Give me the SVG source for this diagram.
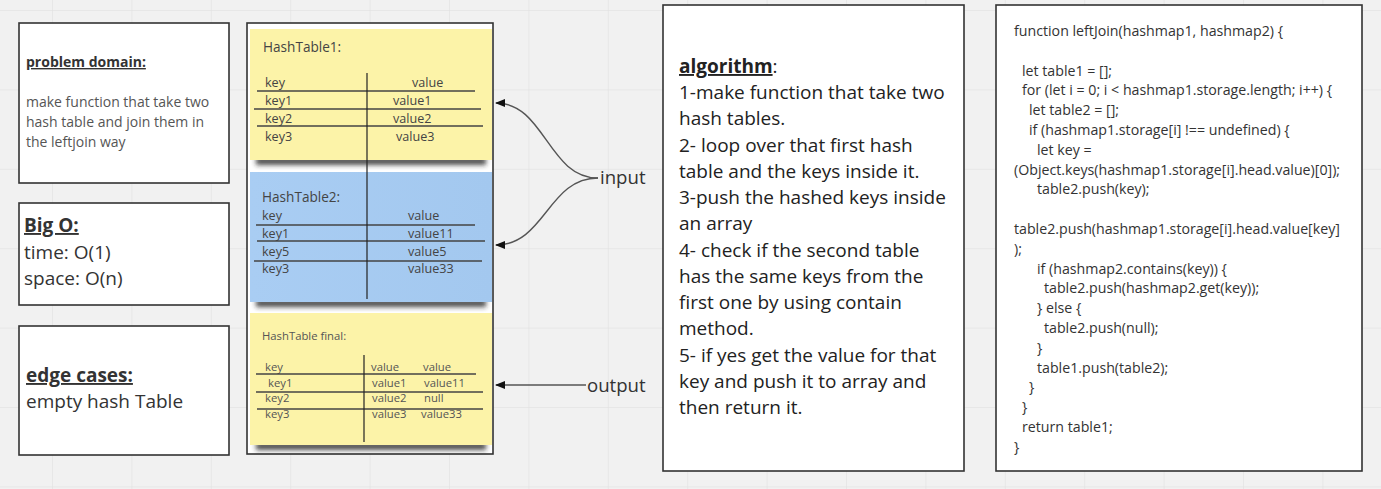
<svg xmlns="http://www.w3.org/2000/svg" width="1381" height="489" viewBox="0 0 1381 489">
<style>
.box{fill:#ffffff;stroke:#333333;stroke-width:1.6}
.t{font-family:"Open Sans","Liberation Sans",sans-serif;fill:#333333}
.sm{font-size:14px;fill:#555555}
.md{font-size:19px}
.io{font-size:18.6px}
.alg{font-size:19px;fill:#222222}
.code{font-size:14.2px;fill:#333333}
.tb{font-size:12.6px;fill:#444444}
.th{font-size:13.6px;fill:#444444}
.tf{font-size:11.3px;fill:#555555}
.b{font-weight:bold;text-decoration:underline}
.row{stroke:#444444;stroke-width:1.3;fill:none}
.col{stroke:#222222;stroke-width:1.2;fill:none}
.conn{stroke:#555555;stroke-width:1.4;fill:none}
</style>
<defs>
<pattern id="grid" x="52" y="10" width="79.4" height="79.4" patternUnits="userSpaceOnUse">
<path d="M0 0H79.4M0 0V79.4" stroke="#e3e3e3" stroke-width="1.5" fill="none"/>
</pattern>
<filter id="sh" x="-10%" y="-100%" width="120%" height="300%">
<feGaussianBlur stdDeviation="2.5"/>
</filter>
<marker id="ah" viewBox="0 0 10 8" refX="9" refY="4" markerWidth="10" markerHeight="8" markerUnits="userSpaceOnUse" orient="auto">
<path d="M10 4L0 0L0 8Z" fill="#111111"/>
</marker>
<linearGradient id="blue" x1="0" y1="0" x2="1" y2="0">
<stop offset="0" stop-color="#a9cdf3"/>
<stop offset="1" stop-color="#a3c8ef"/>
</linearGradient>
</defs>
<rect width="1381" height="489" fill="#f1f1f1"/>
<rect width="1381" height="489" fill="url(#grid)"/>

<g id="problem-domain">
<rect class="box" x="19" y="23" width="210" height="160"/>
<text class="t b" x="26" y="67" font-size="14">problem domain:</text>
<text class="t sm" x="26" y="107">make function that take two</text>
<text class="t sm" x="26" y="127">hash table and join them in</text>
<text class="t sm" x="26" y="147">the leftjoin way</text>
</g>

<g id="big-o">
<rect class="box" x="19" y="203" width="210" height="102"/>
<text class="t md b" x="24" y="232">Big O:</text>
<text class="t md" x="24" y="259">time: O(1)</text>
<text class="t md" x="24" y="285">space: O(n)</text>
</g>

<g id="edge-cases">
<rect class="box" x="19" y="326" width="210" height="129"/>
<text class="t md b" x="26" y="382">edge cases:</text>
<text class="t md" x="26" y="408">empty hash Table</text>
</g>

<g id="hash-tables">
<rect class="box" x="247" y="23" width="246" height="431"/>
<rect x="256" y="157" width="230" height="8" fill="#222222" opacity="0.8" filter="url(#sh)"/>
<rect x="256" y="299" width="230" height="8" fill="#222222" opacity="0.8" filter="url(#sh)"/>
<rect x="256" y="442" width="230" height="8" fill="#222222" opacity="0.8" filter="url(#sh)"/>
<g id="hashtable1">
<rect x="250" y="29" width="242" height="131" fill="#fcf3a8"/>
<text class="t th" x="263" y="52">HashTable1:</text>
<text class="t tb" x="265" y="87">key</text>
<text class="t tb" x="412" y="87">value</text>
<text class="t tb" x="265" y="105">key1</text>
<text class="t tb" x="393" y="105">value1</text>
<text class="t tb" x="265" y="123">key2</text>
<text class="t tb" x="393" y="123">value2</text>
<text class="t tb" x="265" y="141">key3</text>
<text class="t tb" x="396" y="141">value3</text>
<path class="row" d="M257 91H475M254 109H481M257 126H483"/>
</g>
<g id="hashtable2">
<rect x="250" y="172" width="242" height="130" fill="url(#blue)"/>
<text class="t th" x="262" y="202">HashTable2:</text>
<text class="t tb" x="262" y="220">key</text>
<text class="t tb" x="408" y="220">value</text>
<text class="t tb" x="262" y="238">key1</text>
<text class="t tb" x="408" y="238">value11</text>
<text class="t tb" x="262" y="256">key5</text>
<text class="t tb" x="408" y="256">value5</text>
<text class="t tb" x="262" y="273">key3</text>
<text class="t tb" x="408" y="273">value33</text>
<path class="row" d="M256 225H475M257 241H485M254 261H482"/>
</g>
<path class="col" d="M367 73V299"/>
<g id="hashtable-final">
<rect x="250" y="313" width="242" height="132" fill="#fcf3a8"/>
<text class="t tf" x="262" y="340">HashTable final:</text>
<text class="t tf" x="265" y="371">key</text>
<text class="t tf" x="371" y="371">value</text>
<text class="t tf" x="423" y="371">value</text>
<text class="t tf" x="268" y="387">key1</text>
<text class="t tf" x="372" y="387">value1</text>
<text class="t tf" x="424" y="387">value11</text>
<text class="t tf" x="265" y="402">key2</text>
<text class="t tf" x="372" y="402">value2</text>
<text class="t tf" x="424" y="402">null</text>
<text class="t tf" x="265" y="418">key3</text>
<text class="t tf" x="372" y="418">value3</text>
<text class="t tf" x="421" y="418">value33</text>
<path class="row" d="M256 374H476M256 392H483M257 409H483"/>
<path class="col" d="M364 355V442"/>
</g>
</g>

<g id="connectors">
<path class="conn" d="M598 178C548 178 545 103 496 103" marker-end="url(#ah)"/>
<path class="conn" d="M598 178C548 178 545 245 496 245" marker-end="url(#ah)"/>
<path class="conn" d="M586 385H496" marker-end="url(#ah)"/>
<text class="t io" x="600" y="184">input</text>
<text class="t io" x="587" y="392">output</text>
</g>

<g id="algorithm">
<rect class="box" x="663" y="5" width="301" height="466"/>
<text class="t alg" x="679" y="73"><tspan font-weight="bold" text-decoration="underline">algorithm</tspan>:</text>
<text class="t alg" x="679" y="99">1-make function that take two</text>
<text class="t alg" x="679" y="125">hash tables.</text>
<text class="t alg" x="679" y="152">2- loop over that first hash</text>
<text class="t alg" x="679" y="178">table and the keys inside it.</text>
<text class="t alg" x="679" y="204">3-push the hashed keys inside</text>
<text class="t alg" x="679" y="230">an array</text>
<text class="t alg" x="679" y="257">4- check if the second table</text>
<text class="t alg" x="679" y="283">has the same keys from the</text>
<text class="t alg" x="679" y="309">first one by using contain</text>
<text class="t alg" x="679" y="335">method.</text>
<text class="t alg" x="679" y="362">5- if yes get the value for that</text>
<text class="t alg" x="679" y="388">key and push it to array and</text>
<text class="t alg" x="679" y="414">then return it.</text>
</g>

<g id="code">
<rect class="box" x="996" y="5" width="366" height="466"/>
<text class="t code" x="1014" y="36">function leftJoin(hashmap1, hashmap2) {</text>
<text class="t code" x="1022" y="75.6">let table1 = [];</text>
<text class="t code" x="1022" y="95.4">for (let i = 0; i &lt; hashmap1.storage.length; i++) {</text>
<text class="t code" x="1029" y="115.2">let table2 = [];</text>
<text class="t code" x="1029" y="135">if (hashmap1.storage[i] !== undefined) {</text>
<text class="t code" x="1037" y="154.8">let key =</text>
<text class="t code" x="1014" y="174.6">(Object.keys(hashmap1.storage[i].head.value)[0]);</text>
<text class="t code" x="1037" y="194.4">table2.push(key);</text>
<text class="t code" x="1014" y="234">table2.push(hashmap1.storage[i].head.value[key]</text>
<text class="t code" x="1014" y="253.8">);</text>
<text class="t code" x="1037" y="273.6">if (hashmap2.contains(key)) {</text>
<text class="t code" x="1044" y="293.4">table2.push(hashmap2.get(key));</text>
<text class="t code" x="1037" y="313.2">} else {</text>
<text class="t code" x="1044" y="333">table2.push(null);</text>
<text class="t code" x="1037" y="352.8">}</text>
<text class="t code" x="1037" y="372.6">table1.push(table2);</text>
<text class="t code" x="1029" y="392.4">}</text>
<text class="t code" x="1022" y="412.2">}</text>
<text class="t code" x="1022" y="432">return table1;</text>
<text class="t code" x="1014" y="451.8">}</text>
</g>
</svg>
